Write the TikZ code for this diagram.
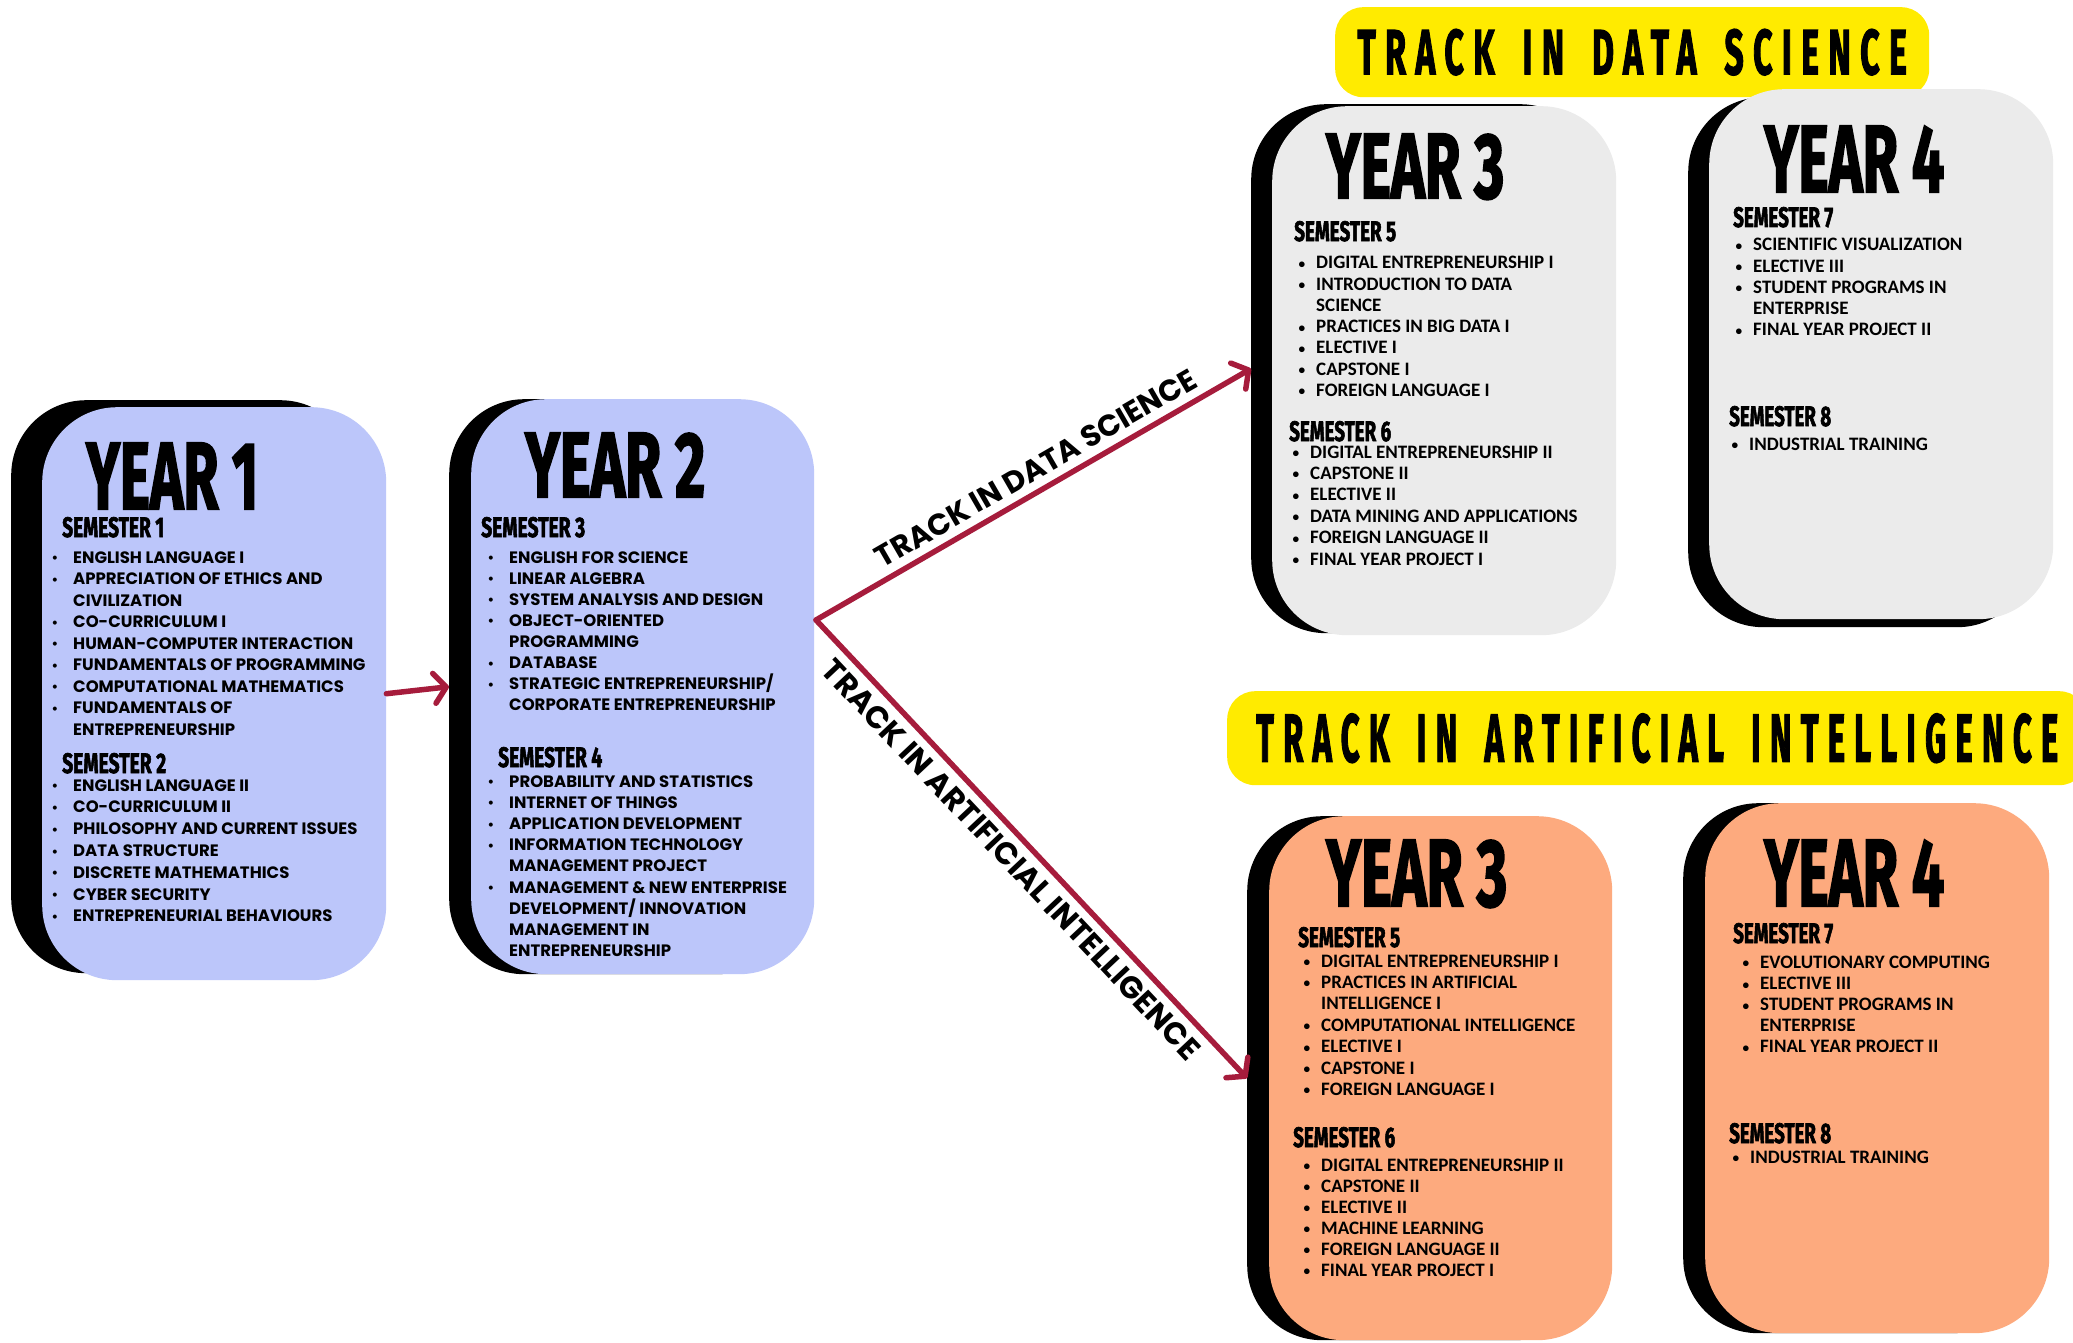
\documentclass[tikz,border=0pt]{standalone}
\usepackage{fontspec}
\usepackage{graphicx}
\setmainfont{Poppins}
\newfontfamily\itemA{Poppins}
\newfontfamily\itemB{Carlito}
\newfontfamily\headfont[BoldFeatures={FakeBold=2.5}]{Fira Sans}
\newfontfamily\bannerfont[LetterSpace=28,WordSpace=1.6,BoldFeatures={FakeBold=2.5}]{Fira Sans}
\usetikzlibrary{arrows.meta}
\definecolor{yblue}{HTML}{BCC6FA}
\definecolor{ygrey}{HTML}{EBEBEB}
\definecolor{yorange}{HTML}{FDAA7E}
\definecolor{yyellow}{HTML}{FFEB00}
\definecolor{crim}{HTML}{A61C3C}
\newcommand\hd[3]{\resizebox{#1pt}{#2pt}{\headfont\bfseries #3}}
\newcommand\bnr[3]{\resizebox{#1pt}{#2pt}{\bannerfont\bfseries #3}}
\newcommand\bul{\llap{\raisebox{0.4pt}{\scalebox{0.8}{\textbullet}}\hspace{15pt}}}
\newcommand\bulc{\llap{\raisebox{0.6pt}{\scalebox{0.7}{\textbullet}}\hspace{11pt}}}
\newcommand\lineset[6]{\foreach \t [count=\i from 0] in {#6} {\node[#2, name=#1-\i] at (#3, #4+\i*#5) {\t};}}
\tikzset{
  box/.style={rounded corners=75pt, inner sep=0pt, anchor=north west, draw=none},
  shadow/.style={box, fill=black},
  banner/.style={rounded corners=28pt, inner sep=0pt, anchor=north west, fill=yyellow},
  hdn/.style={anchor=base west, inner sep=0pt},
  itA/.style={anchor=base west, inner sep=0pt, font=\fontsize{16.5}{19}\selectfont\itemA\bfseries},
  itB/.style={anchor=base west, inner sep=0pt, font=\fontsize{19}{22}\selectfont\itemB\bfseries},
  conn/.style={draw=crim, line width=5.5pt, line cap=round, line join=round, -{Straight Barb[length=12pt,width=30pt,round]}},
  lbl/.style={font=\fontsize{30}{34}\selectfont\itemA\bfseries, inner sep=8pt, text=black}
}
\begin{document}
\begin{tikzpicture}[x=1pt,y=-1pt]
\useasboundingbox (0,0) rectangle (2073,1343);
\fill[white] (0,0) rectangle (2073,1343);

% banners
\node[banner, minimum width=594pt, minimum height=90pt] (bds) at (1335,7) {\bnr{549}{45}{TRACK IN DATA SCIENCE}};
\node[banner, minimum width=860pt, minimum height=94pt] (bai) at (1227,691) {\bnr{802}{48}{TRACK IN ARTIFICIAL INTELLIGENCE}};

% shadows
\node[shadow, minimum width=344pt, minimum height=573pt] (s1) at (11,400) {};
\node[shadow, minimum width=343pt, minimum height=575pt] (s2) at (449,399) {};
\node[shadow, minimum width=344pt, minimum height=529pt] (s3d) at (1251,104) {};
\node[shadow, minimum width=344pt, minimum height=530pt] (s4d) at (1688,97) {};
\node[shadow, minimum width=343pt, minimum height=524pt] (s3a) at (1247,816) {};
\node[shadow, minimum width=344pt, minimum height=530pt] (s4a) at (1683,803) {};

% boxes
\node[box, fill=yblue, minimum width=344pt, minimum height=573pt] (y1) at (42,407) {};
\node[box, fill=yblue, minimum width=343pt, minimum height=575pt] (y2) at (471,399) {};
\node[box, fill=ygrey, minimum width=344pt, minimum height=529pt] (y3d) at (1272,106) {};
\node[box, fill=ygrey, minimum width=344pt, minimum height=530pt] (y4d) at (1709,89) {};
\node[box, fill=yorange, minimum width=343pt, minimum height=524pt] (y3a) at (1269,816) {};
\node[box, fill=yorange, minimum width=344pt, minimum height=530pt] (y4a) at (1705,803) {};

% year headings
\node[hdn] (y1h) at (86,509) {\hd{172}{66}{YEAR 1}};
\node[hdn] (y2h) at (525,497) {\hd{180}{64}{YEAR 2}};
\node[hdn] (y3dh) at (1326,198) {\hd{178}{64}{YEAR 3}};
\node[hdn] (y4dh) at (1764,192) {\hd{180}{66}{YEAR 4}};
\node[hdn] (y3ah) at (1326,906) {\hd{181}{66}{YEAR 3}};
\node[hdn] (y4ah) at (1764,906) {\hd{180}{66}{YEAR 4}};

% semester headings
\node[hdn] (y1s1) at (62,537) {\hd{102}{20}{SEMESTER 1}};
\node[hdn] (y1s2) at (62,773) {\hd{104}{20}{SEMESTER 2}};
\node[hdn] (y2s3) at (481,537) {\hd{104}{20}{SEMESTER 3}};
\node[hdn] (y2s4) at (498,767) {\hd{104}{20}{SEMESTER 4}};
\node[hdn] (y3ds5) at (1294,241) {\hd{102}{20}{SEMESTER 5}};
\node[hdn] (y3ds6) at (1289,441) {\hd{102}{20}{SEMESTER 6}};
\node[hdn] (y4ds7) at (1733,227) {\hd{100}{20}{SEMESTER 7}};
\node[hdn] (y4ds8) at (1729,426) {\hd{102}{20}{SEMESTER 8}};
\node[hdn] (y3as5) at (1298,947) {\hd{102}{20}{SEMESTER 5}};
\node[hdn] (y3as6) at (1293,1147) {\hd{102}{20}{SEMESTER 6}};
\node[hdn] (y4as7) at (1733,943) {\hd{100}{20}{SEMESTER 7}};
\node[hdn] (y4as8) at (1729,1143) {\hd{102}{20}{SEMESTER 8}};

% item lists
\lineset{a1}{itA}{73}{563}{21.5}{{\bul ENGLISH LANGUAGE I},{\bul APPRECIATION OF ETHICS AND},{CIVILIZATION},{\bul CO-CURRICULUM I},{\bul HUMAN-COMPUTER INTERACTION},{\bul FUNDAMENTALS OF PROGRAMMING},{\bul COMPUTATIONAL MATHEMATICS},{\bul FUNDAMENTALS OF},{ENTREPRENEURSHIP}}
\lineset{a2}{itA}{73}{791}{21.8}{{\bul ENGLISH LANGUAGE II},{\bul CO-CURRICULUM II},{\bul PHILOSOPHY AND CURRENT ISSUES},{\bul DATA STRUCTURE},{\bul DISCRETE MATHEMATHICS},{\bul CYBER SECURITY},{\bul ENTREPRENEURIAL BEHAVIOURS}}
\lineset{b3}{itA}{509}{563}{21.1}{{\bul ENGLISH FOR SCIENCE},{\bul LINEAR ALGEBRA},{\bul SYSTEM ANALYSIS AND DESIGN},{\bul OBJECT-ORIENTED},{PROGRAMMING},{\bul DATABASE},{\bul STRATEGIC ENTREPRENEURSHIP/},{CORPORATE ENTREPRENEURSHIP}}
\lineset{b4}{itA}{509}{787}{21.2}{{\bul PROBABILITY AND STATISTICS},{\bul INTERNET OF THINGS},{\bul APPLICATION DEVELOPMENT},{\bul INFORMATION TECHNOLOGY},{MANAGEMENT PROJECT},{\bul MANAGEMENT \& NEW ENTERPRISE},{DEVELOPMENT/ INNOVATION},{MANAGEMENT IN},{ENTREPRENEURSHIP}}
\lineset{c5}{itB}{1316}{269}{21.2}{{\bulc DIGITAL ENTREPRENEURSHIP I},{\bulc INTRODUCTION TO DATA},{SCIENCE},{\bulc PRACTICES IN BIG DATA I},{\bulc ELECTIVE I},{\bulc CAPSTONE I},{\bulc FOREIGN LANGUAGE I}}
\lineset{c6}{itB}{1310}{458}{21.4}{{\bulc DIGITAL ENTREPRENEURSHIP II},{\bulc CAPSTONE II},{\bulc ELECTIVE II},{\bulc DATA MINING AND APPLICATIONS},{\bulc FOREIGN LANGUAGE II},{\bulc FINAL YEAR PROJECT I}}
\lineset{d7}{itB}{1753}{251}{21.2}{{\bulc SCIENTIFIC VISUALIZATION},{\bulc ELECTIVE III},{\bulc STUDENT PROGRAMS IN},{ENTERPRISE},{\bulc FINAL YEAR PROJECT II}}
\lineset{d8}{itB}{1749}{450}{21.2}{{\bulc INDUSTRIAL TRAINING}}
\lineset{e5}{itB}{1321}{967}{21.4}{{\bulc DIGITAL ENTREPRENEURSHIP I},{\bulc PRACTICES IN ARTIFICIAL},{INTELLIGENCE I},{\bulc COMPUTATIONAL INTELLIGENCE},{\bulc ELECTIVE I},{\bulc CAPSTONE I},{\bulc FOREIGN LANGUAGE I}}
\lineset{e6}{itB}{1321}{1171}{21.1}{{\bulc DIGITAL ENTREPRENEURSHIP II},{\bulc CAPSTONE II},{\bulc ELECTIVE II},{\bulc MACHINE LEARNING},{\bulc FOREIGN LANGUAGE II},{\bulc FINAL YEAR PROJECT I}}
\lineset{f7}{itB}{1760}{968.5}{21.1}{{\bulc EVOLUTIONARY COMPUTING},{\bulc ELECTIVE III},{\bulc STUDENT PROGRAMS IN},{ENTERPRISE},{\bulc FINAL YEAR PROJECT II}}
\lineset{f8}{itB}{1750}{1163}{21.1}{{\bulc INDUSTRIAL TRAINING}}

% connectors
\coordinate (br) at (816,620);
\draw[conn] (y1.east) -- (s2.west);
\draw[conn] (br) -- node[sloped, above, pos=0.53, lbl] (lds) {TRACK IN DATA SCIENCE} (s3d.west);
\draw[conn] (br) -- node[sloped, below, pos=0.49, lbl, font=\fontsize{31}{35}\selectfont\itemA\bfseries] (lai) {TRACK IN ARTIFICIAL INTELLIGENCE} (s3a.west);
\end{tikzpicture}
\end{document}
